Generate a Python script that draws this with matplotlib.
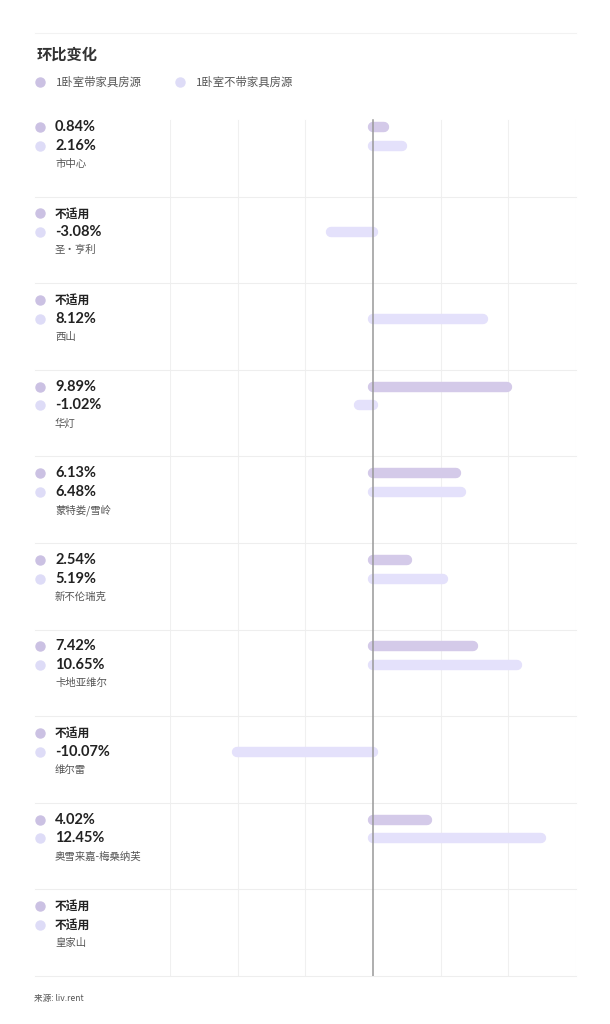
import numpy as np
import matplotlib
matplotlib.use("Agg")
import matplotlib.pyplot as plt
import matplotlib.transforms as mtransforms

plt.rcParams['font.family'] = ['Noto Sans CJK SC', 'DejaVu Sans']

# 数据
regions = ["市中心", "圣·亨利", "西山", "华灯", "蒙特娄/雪岭", "新不伦瑞克",
           "卡地亚维尔", "维尔雷", "奥雪来嘉-梅桑纳芙", "皇家山"]
furnished = [0.84, np.nan, np.nan, 9.89, 6.13, 2.54, 7.42, np.nan, 4.02, np.nan]
unfurnished = [2.16, -3.08, 8.12, -1.02, 6.48, 5.19, 10.65, -10.07, 12.45, np.nan]
series_names = ["1卧室带家具房源", "1卧室不带家具房源"]

c1 = "#d4cae9"
c2 = "#e4e1fb"
dot1 = "#cbc1e3"
dot2 = "#dedcf7"
num_font = ['Lato', 'Noto Sans CJK SC']

fig = plt.figure(figsize=(6.1, 10.24), dpi=100)
ax = fig.add_axes([170 / 610, 1 - 976 / 1024, 406 / 610, 866 / 1024])
ax.set_xlim(-15, 15)
ax.set_ylim(len(regions), 0)
ax.axis("off")

# 网格
for x in range(-15, 16, 5):
    if x == 0:
        continue
    ax.plot([x, x], [0.12, len(regions)], color="#f0f0f0", lw=0.8, zorder=0)

bt = mtransforms.blended_transform_factory(fig.transFigure, ax.transData)
for i in range(1, len(regions) + 1):
    ax.plot([35 / 610, 576 / 610], [i, i], color="#eeeeee", lw=0.8,
            transform=bt, clip_on=False, zorder=0)

off1, off2 = 0.195, 0.41
for i, name in enumerate(regions):
    v1, v2 = furnished[i], unfurnished[i]
    if not np.isnan(v1):
        ax.hlines(i + off1, 0, v1, color=c1, lw=7.5, capstyle="round", zorder=2)
    if not np.isnan(v2):
        ax.hlines(i + off2, 0, v2, color=c2, lw=7.5, capstyle="round", zorder=2)
    # 左侧标签
    for off, v, dc in [(off1, v1, dot1), (off2, v2, dot2)]:
        ax.plot([40 / 610], [i + off], "o", color=dc, ms=6.5, transform=bt,
                clip_on=False)
        txt = "不适用" if np.isnan(v) else f"{v:.2f}%"
        fs = 8.5 if np.isnan(v) else 10.5
        ax.text(55 / 610, i + off, txt, transform=bt, va="center", ha="left",
                fontsize=fs, fontweight="bold", color="#222222", family=num_font)
    ax.text(55 / 610, i + 0.62, name, transform=bt, va="center", ha="left",
            fontsize=7.5, color="#555555")

ax.axvline(0, color="#999999", lw=1.1, ymin=0, ymax=1 - 0.12 / len(regions), zorder=3)

# 标题与图例
fig.add_artist(plt.Line2D([35 / 610, 576 / 610], [1 - 33 / 1024] * 2,
                          color="#f2f2f2", lw=0.8))
fig.text(37 / 610, 1 - 55 / 1024, "环比变化", fontsize=11, fontweight="bold",
         color="#333333", va="center")
for x0, nm, dc in [(40, series_names[0], dot1), (180, series_names[1], dot2)]:
    fig.add_artist(plt.Line2D([x0 / 610], [1 - 82 / 1024], marker="o", ms=6.5,
                              color=dc, lw=0))
    fig.text((x0 + 16) / 610, 1 - 82 / 1024, nm, fontsize=8.2, color="#555555",
             va="center")

fig.text(34 / 610, 1 - 998 / 1024, "来源: liv.rent", fontsize=6.2, color="#555555",
         va="center")

fig.savefig("out.png", dpi=100)
